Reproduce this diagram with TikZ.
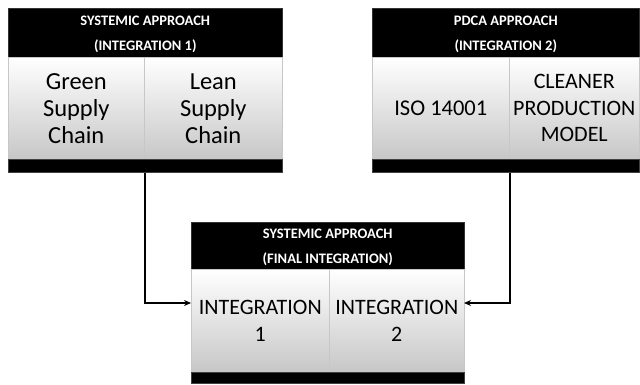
\documentclass[tikz,border=0pt]{standalone}
\usepackage{fontspec}
\setmainfont{Carlito}
\usetikzlibrary{arrows.meta}
\begin{document}
\begin{tikzpicture}[x=1pt,y=-1pt,
  hdr/.style={fill=black, draw=black!80, line width=0.6pt, text=white, inner sep=0pt, anchor=north west,
    font=\bfseries\fontsize{14.5}{25}\selectfont, align=center},
  cell/.style={top color=white, bottom color=black!22, draw=black!22, line width=0.6pt, inner sep=0pt,
    anchor=north west, font=\fontsize{22}{26.5}\selectfont, align=center},
  bigcell/.style={cell, font=\fontsize{24.5}{27}\selectfont},
  bar/.style={fill=black, draw=black!75, line width=0.8pt, inner sep=0pt, anchor=north west},
  conn/.style={draw=black, line width=1.8pt, -{Stealth[length=7pt,width=6pt]}}]
\useasboundingbox (0,0) rectangle (640,385);
% box 1
\node[hdr, minimum width=274, minimum height=49, text depth=-6pt] (h1) at (8,8) {SYSTEMIC APPROACH\\(INTEGRATION 1)};
\node[bigcell, minimum width=136, minimum height=102] (green) at (8,57) {Green\\Supply\\Chain};
\node[bigcell, minimum width=138, minimum height=102] (lean) at (144,57) {Lean\\Supply\\Chain};
\node[bar, minimum width=274, minimum height=13] (b1) at (8,159) {};
% box 2
\node[hdr, minimum width=267, minimum height=49, text depth=-6pt] (h2) at (372,8) {PDCA APPROACH\\(INTEGRATION 2)};
\node[cell, minimum width=137, minimum height=102, font=\fontsize{22.5}{26.5}\selectfont] (iso) at (372,57) {ISO 14001};
\node[cell, minimum width=130, minimum height=102] (cp) at (509,57) {CLEANER\\PRODUCTION\\MODEL};
\node[bar, minimum width=267, minimum height=13] (b2) at (372,159) {};
% box 3
\node[hdr, minimum width=273, minimum height=47, text depth=-2pt] (h3) at (191,222) {SYSTEMIC APPROACH\\(FINAL INTEGRATION)};
\node[cell, minimum width=138, minimum height=103] (i1) at (191,269) {INTEGRATION\\1};
\node[cell, minimum width=135, minimum height=103] (i2) at (329,269) {INTEGRATION\\2};
\node[bar, minimum width=273, minimum height=11] (b3) at (191,372) {};
% connectors
\coordinate (in1) at (191,303);
\coordinate (in2) at (464,303);
\draw[conn] (b1.south -| green.east) |- (in1);
\draw[conn] (b2.south -| iso.east) |- (in2);
\end{tikzpicture}
\end{document}
